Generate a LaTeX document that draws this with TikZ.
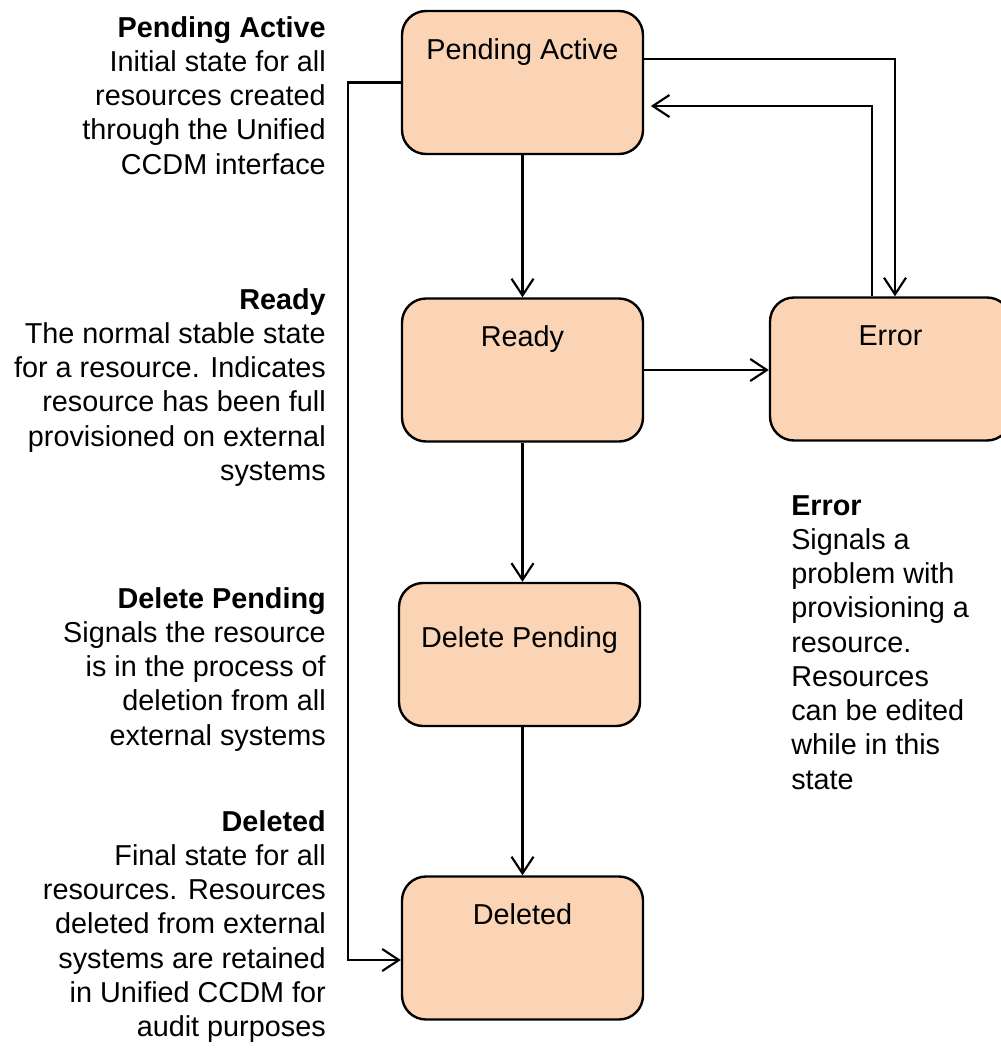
\documentclass[tikz,border=0pt]{standalone}
\usepackage{fontspec}
\setmainfont{Liberation Sans}
\usetikzlibrary{arrows.meta}
\definecolor{statefill}{RGB}{250,212,180}
\tikzset{
        % State boxes
        node_state/.style={rectangle, rounded corners=18pt, draw=black, line width=1.8pt,
                fill=statefill, minimum width=180.75pt, inner xsep=0pt, inner ysep=0pt,
                text height=36pt, text depth=71.25pt, font=\fontsize{21.6}{25.7}\selectfont},
        % Descriptions beside the boxes
        node_desc/.style={inner sep=0pt, font=\fontsize{21.6}{25.7}\selectfont},
        % Transitions
        edge_trans/.style={line width=1.6pt, -{Straight Barb[length=12.5pt,width=16.5pt]}}
}
\begin{document}
\begin{tikzpicture}[x=0.75pt, y=-0.75pt]
    \useasboundingbox (0,0) rectangle (1000,1053);

    \node[node_state] (pa) at (522.5,82.5) {Pending Active};
    \node[node_state] (ready) at (522.5,370) {Ready};
    \node[node_state] (error) at (890.5,369) {Error};
    \node[node_state, text height=48pt, text depth=59.25pt] (delpend) at (519.5,654.5) {Delete Pending};
    \node[node_state] (deleted) at (522.5,948) {Deleted};

    \node[node_desc, anchor=north east, align=right] (pa_desc) at (326,16)
        {\textbf{Pending Active}\\Initial state for all\\resources created\\through the Unified\\CCDM interface};
    \node[node_desc, anchor=north east, align=right] (ready_desc) at (326,288)
        {\textbf{Ready}\\The normal stable state\\for a resource. Indicates\\resource has been full\\provisioned on external\\systems};
    \node[node_desc, anchor=north east, align=right] (delpend_desc) at (326,587)
        {\textbf{Delete Pending}\\Signals the resource\\is in the process of\\deletion from all\\external systems};
    \node[node_desc, anchor=north east, align=right] (deleted_desc) at (326,810)
        {\textbf{Deleted}\\Final state for all\\resources. Resources\\deleted from external\\systems are retained\\in Unified CCDM for\\audit purposes};
    \node[node_desc, anchor=north west, align=left] (error_desc) at (791,495)
        {\textbf{Error}\\Signals a\\problem with\\provisioning a\\resource.\\Resources\\can be edited\\while in this\\state};

    % bend points
    \coordinate (to_err) at (895,59);
    \coordinate (from_err) at (872,106);
    \coordinate (left_top) at (348,82.5);
    \coordinate (left_bot) at (348,960);

    \draw[edge_trans] (pa) -- (ready);
    \draw[edge_trans] (ready.east) -- (ready.east -| error.west);
    \draw[edge_trans] (ready.south) -- (ready.south |- delpend.north);
    \draw[edge_trans] (delpend.south -| deleted.north) -- (deleted.north);
    \draw[edge_trans] (pa.east |- to_err) -- (to_err) -- (to_err |- error.north);
    \draw[edge_trans, shorten >=5pt] (from_err |- error.north) -- (from_err) -- (pa.east |- from_err);
    \draw[edge_trans] (pa.west) -- (left_top) -- (left_bot) -- (deleted.west |- left_bot);
\end{tikzpicture}
\end{document}
